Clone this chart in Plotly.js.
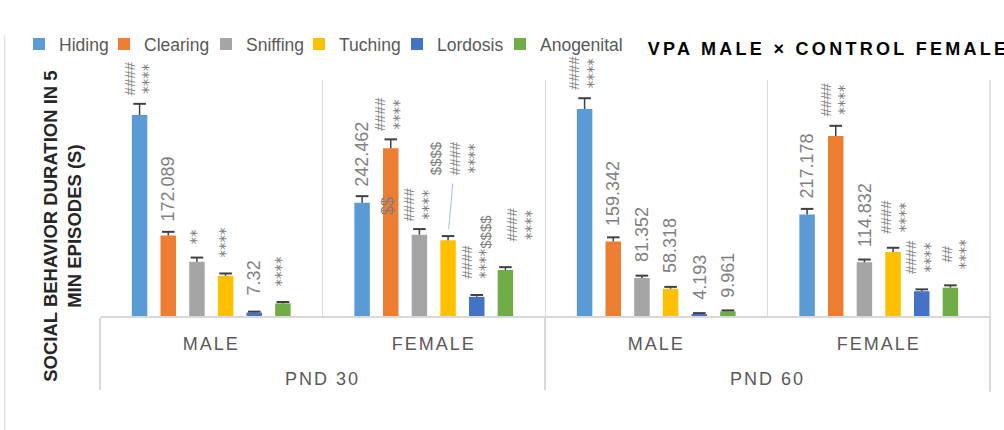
<!DOCTYPE html>
<html>
<head>
<meta charset="utf-8">
<script src="https://cdn.plot.ly/plotly-3.0.1.min.js"></script>
<style>
  body { margin: 0; background: #fff; }
  #graph { width: 1004px; height: 430px; }
  .annotation[data-index="0"] text { letter-spacing: 3.3px; }
  .xaxislayer-above text { letter-spacing: 2px; }
</style>
</head>
<body>
<div id="graph"></div>
<script>
var ages = ['PND 30', 'PND 30', 'PND 60', 'PND 60'];
// first line left empty so the sex row sits lower, like the Excel axis
var sexes = ['\u00a0<br>MALE', '\u00a0<br>FEMALE', '\u00a0<br>MALE', '\u00a0<br>FEMALE'];
var behaviors = ['Hiding', 'Clearing', 'Sniffing', 'Tuching', 'Lordosis', 'Anogenital'];
var colors = ['#5B9BD5', '#ED7D31', '#A5A5A5', '#FFC000', '#4472C4', '#70AD47'];

// duration (s) per group: PND30 male, PND30 female, PND60 male, PND60 female
var hiding = [430, 242.462, 443, 217.178];
var clearing = [172.089, 359, 159.342, 385];
var sniffing = [116, 174, 81.352, 114.832];
var tuching = [86, 162, 58.318, 137];
var lordosis = [7.32, 41, 4.193, 53];
var anogenital = [27, 98.5, 9.961, 60.6];

var hidingErr = [24, 14, 23, 12];
var clearingErr = [8, 19, 9, 22];
var sniffingErr = [9, 12, 5, 6];
var tuchingErr = [5, 9, 4, 9];
var lordosisErr = [2, 4, 2, 4];
var anogenitalErr = [3, 6, 2, 5];

// labels above the bars, one row per group
var marks = [
  ['####<br>****', '172.089', '**', '****', '7.32', '****'],
  ['242.462', '####<br>****', '####<br>****', '$$$$<br>####<br>****', '####<br>****$$$$', '####<br>****'],
  ['####<br>****', '159.342', '81.352', '58.318', '4.193', '9.961'],
  ['217.178', '####<br>****', '114.832', '####<br>****', '####<br>****', '##<br>****']
];

var values = [hiding, clearing, sniffing, tuching, lordosis, anogenital];
var errors = [hidingErr, clearingErr, sniffingErr, tuchingErr, lordosisErr, anogenitalErr];

var FONT = 'Liberation Sans, Arial, sans-serif';
var BARGAP = 0.227;

function barPos(g, k) {
  return g + (-0.5 + (k + 0.5) / behaviors.length) * (1 - BARGAP);
}

function legendId(k) {
  return k === 0 ? 'legend' : 'legend' + (k + 1);
}

var data = [];
behaviors.forEach(function(name, k) {
  data.push({
    type: 'bar',
    name: name,
    legend: legendId(k),
    x: [ages, sexes],
    y: values[k],
    marker: {color: colors[k]},
    error_y: {
      type: 'data', symmetric: false,
      array: errors[k], arrayminus: [0, 0, 0, 0],
      width: 0, thickness: 1.5, color: '#404040'
    }
  });
});

// caps on top of the error bars only
var capX = [], capY = [];
behaviors.forEach(function(name, k) {
  for (var g = 0; g < ages.length; g++) {
    capX.push(barPos(g, k));
    capY.push(values[k][g] + errors[k][g]);
  }
});
data.push({
  type: 'scatter', mode: 'markers', xaxis: 'x2', yaxis: 'y',
  x: capX, y: capY, showlegend: false, hoverinfo: 'skip',
  marker: {symbol: 'line-ew', size: 9, line: {width: 2, color: '#404040'}}
});

var lift = [
  [6, 8, 11, 14, 14, 14],
  [7, 6, 6, 0, 14, 24],
  [6, 9, 12, 12, 11, 11],
  [8, 7, 11, 12, 13, 14]
];

var annotations = [
  {
    xref: 'paper', yref: 'paper', x: 0.818, y: 1.13,
    xanchor: 'center', yanchor: 'middle', showarrow: false,
    text: '<b>VPA MALE × CONTROL FEMALE</b>',
    font: {family: FONT, size: 18, color: '#000000'}
  },
  {
    xref: 'paper', yref: 'paper', x: -0.043, y: 0.381,
    xanchor: 'center', yanchor: 'middle', showarrow: false, textangle: -90,
    text: '<b>SOCIAL BEHAVIOR DURATION IN 5<br>MIN EPISODES (S)</b>',
    font: {family: FONT, size: 18.5, color: '#262626'}
  }
];

function starFont(s) {
  return s.replace(/\*+/g, function(m) {
    return '<span style="font-family:DejaVu Sans">' + m + '</span>';
  });
}

for (var g = 0; g < marks.length; g++) {
  for (var k = 0; k < behaviors.length; k++) {
    var txt = marks[g][k];
    var isNum = /^[0-9.]+$/.test(txt);
    var ann = {
      xref: 'x2', yref: 'y', x: barPos(g, k), y: values[k][g] + errors[k][g],
      text: starFont(txt), textangle: -90, showarrow: false,
      xanchor: 'center', yanchor: 'bottom', yshift: lift[g][k],
      align: 'center',
      font: {family: FONT, size: isNum ? 18 : 15, color: '#7F7F7F'}
    };
    if (g === 1 && k === 3) {
      ann.showarrow = true; ann.arrowhead = 0; ann.arrowwidth = 1;
      ann.arrowcolor = '#9DC3E6'; ann.ax = 7; ann.ay = -78;
      ann.standoff = 7; ann.startstandoff = 7;
      ann.yanchor = 'middle'; ann.yshift = 0;
    }
    if (g === 1 && k === 4) ann.align = 'left';
    if (g === 1 && k === 5) ann.xshift = 17;
    if (g === 3 && k === 3) ann.xshift = 3;
    if (g === 3 && k === 5) ann.xshift = 6;
    annotations.push(ann);
  }
}
// moved label sitting on the PND 30 female clearing bar
annotations.push({
  xref: 'x2', yref: 'y', x: barPos(1, 1), y: clearing[1],
  text: '$$', textangle: -90, showarrow: false,
  xanchor: 'center', yanchor: 'top', xshift: -4, yshift: -47,
  font: {family: FONT, size: 16, color: '#7F7F7F'}
});

var layout = {
  width: 1004, height: 430,
  margin: {l: 100, r: 14, t: 80, b: 114},
  paper_bgcolor: '#ffffff', plot_bgcolor: '#ffffff',
  barmode: 'group', bargap: BARGAP, bargroupgap: 0.46,
  hovermode: false,
  font: {family: FONT, color: '#595959'},
  showlegend: true,
  xaxis: {
    type: 'multicategory', range: [-0.5, 3.5],
    tickson: 'boundaries', showgrid: true, gridcolor: '#D9D9D9', gridwidth: 1,
    showline: true, linecolor: '#D9D9D9', linewidth: 2, ticks: '',
    showdividers: true, dividercolor: '#D9D9D9', dividerwidth: 1.5,
    ticklabelstandoff: -13,
    tickfont: {family: FONT, size: 18, color: '#595959'}
  },
  xaxis2: {overlaying: 'x', range: [-0.5, 3.5], visible: false},
  yaxis: {
    range: [0, 505], showgrid: false, zeroline: false,
    showticklabels: false, showline: false, ticks: ''
  },
  shapes: [
    {
      type: 'line', xref: 'paper', yref: 'paper',
      x0: -0.107, x1: -0.107, y0: 1.19, y1: -0.49,
      line: {color: '#D9D9D9', width: 1}
    },
    {
      type: 'line', xref: 'paper', yref: 'paper',
      x0: 1, x1: 1, y0: 1, y1: -0.322,
      line: {color: '#D9D9D9', width: 1.5}
    }
  ],
  annotations: annotations
};

// one single-entry legend per series so each key sits where the Excel legend puts it
var legendLeft = [19, 104, 206, 299, 397, 500];
legendLeft.forEach(function(px, k) {
  layout[legendId(k)] = {
    orientation: 'h', x: (px - 100) / 890, y: 1.152,
    xanchor: 'left', yanchor: 'middle', bgcolor: 'rgba(0,0,0,0)',
    font: {family: FONT, size: 17.5, color: '#595959'}
  };
});

Plotly.newPlot('graph', data, layout, {displayModeBar: false, staticPlot: true});
</script>
</body>
</html>
